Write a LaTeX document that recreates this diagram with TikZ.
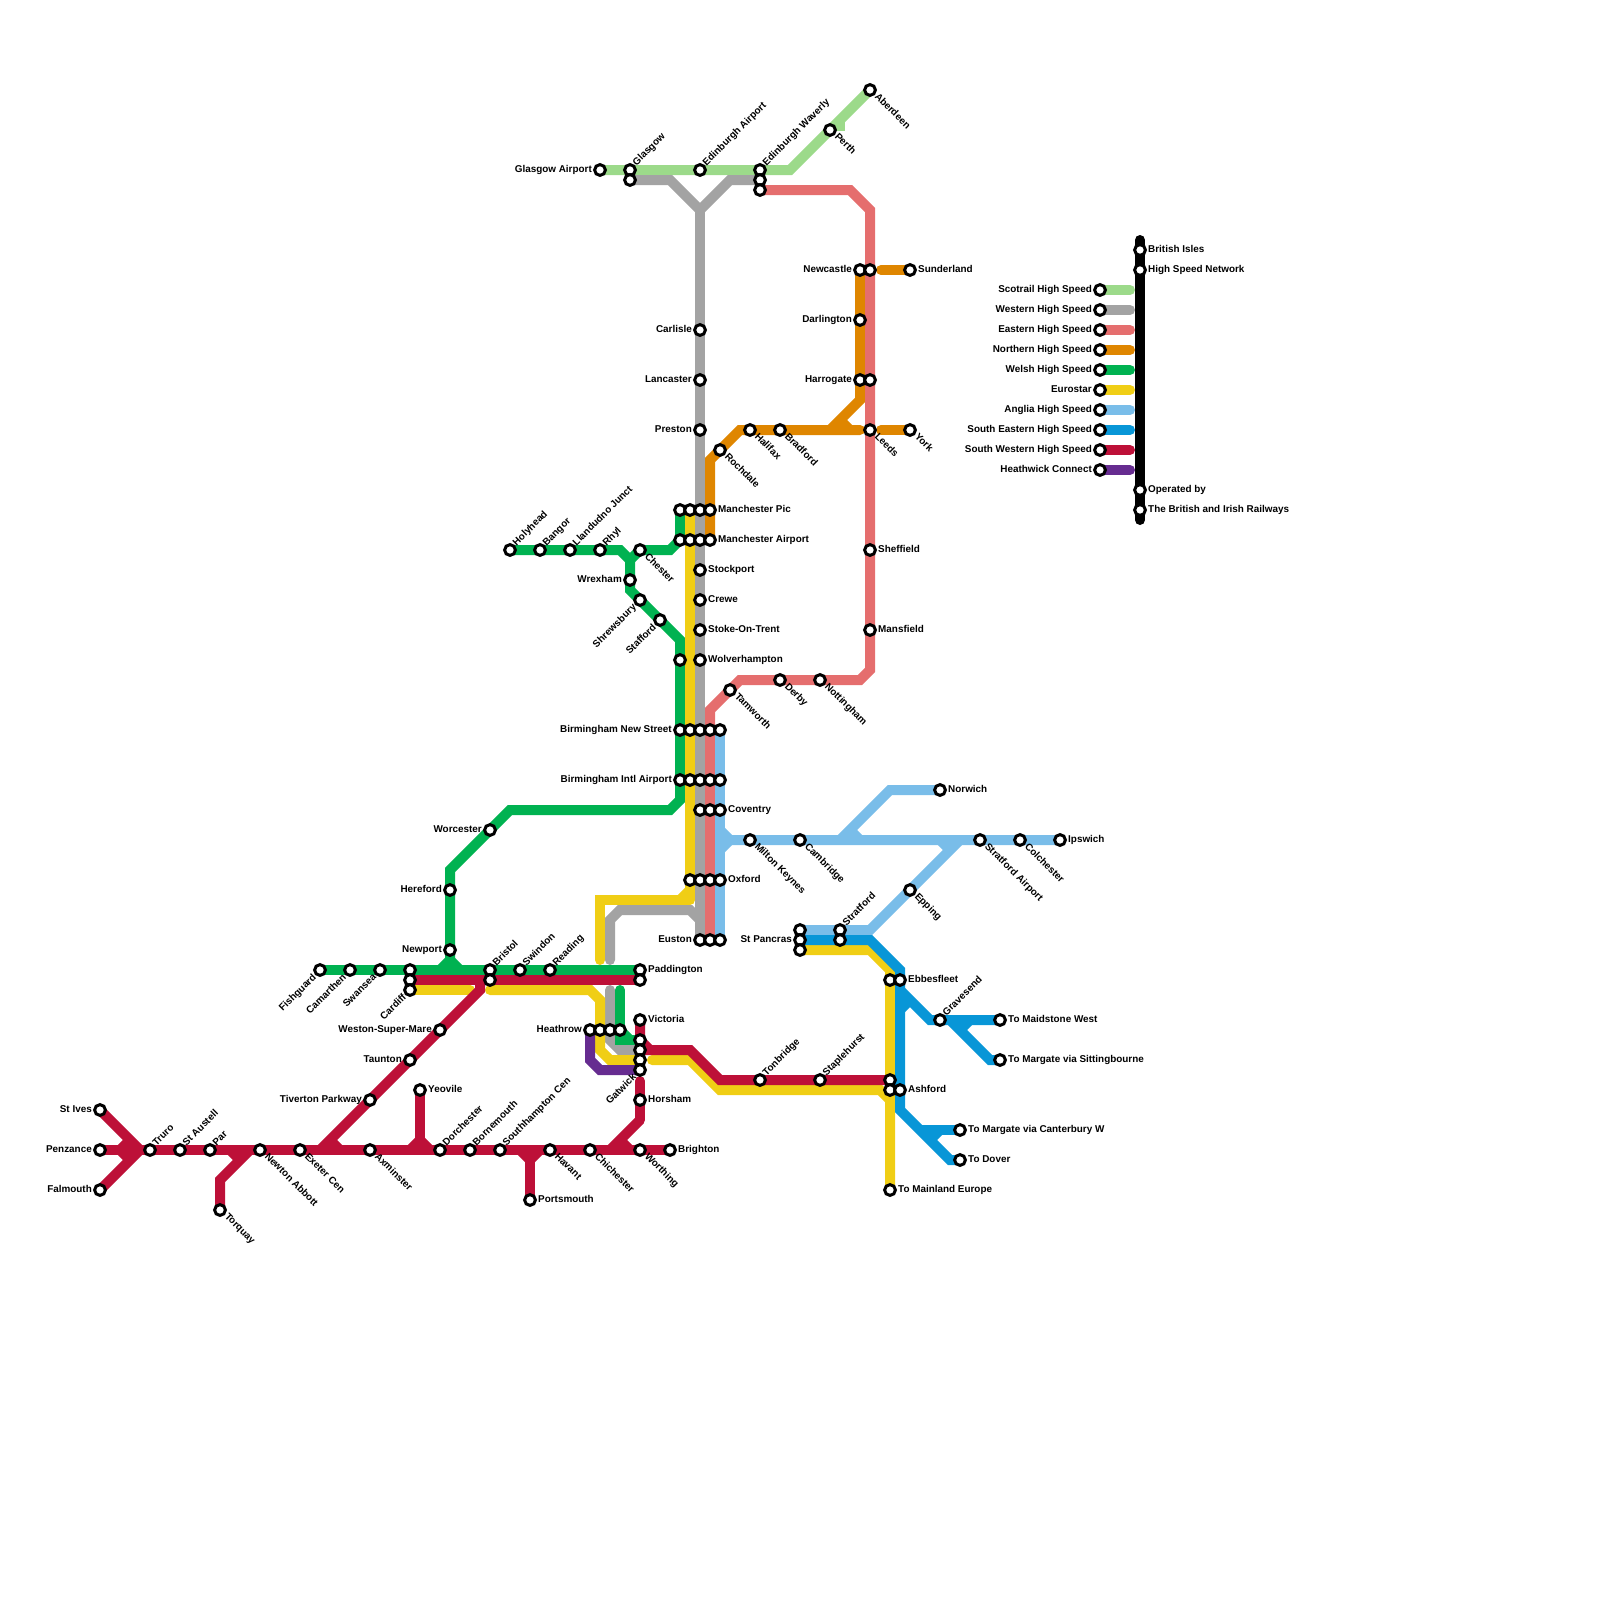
\documentclass[tikz,border=0pt]{standalone}
\usepackage{fontspec}
\setmainfont{Liberation Sans}
\pgfdeclarelayer{lines}
\pgfsetlayers{lines,main}
\definecolor{cScot}{HTML}{9CDA8A}
\definecolor{cWest}{HTML}{A3A3A3}
\definecolor{cEast}{HTML}{E56E6E}
\definecolor{cNorth}{HTML}{DF8600}
\definecolor{cWelsh}{HTML}{00B251}
\definecolor{cEuro}{HTML}{F0CE15}
\definecolor{cAnglia}{HTML}{79BDE9}
\definecolor{cSE}{HTML}{0896D7}
\definecolor{cSW}{HTML}{BD1038}
\definecolor{cHeath}{HTML}{662C90}
\newcommand{\stn}[2]{\node[stnode] (#1) at (#2) {};}
\newcommand{\wpt}[2]{\coordinate (#1) at (#2);}
\newcommand{\lab}[3]{\node[#1] (l#2) at (#2) {#3};}
\tikzset{
  stnode/.style={circle,draw=black,fill=white,line width=3pt,minimum size=10.8pt,inner sep=0pt},
  txt/.style={font=\fontsize{9.9}{12}\selectfont\bfseries,text=black,inner sep=0pt},
  lblR/.style={txt,xshift=8pt,yshift=0pt,anchor=mid west},
  lblL/.style={txt,xshift=-8pt,yshift=0pt,anchor=mid east},
  lblUR/.style={txt,xshift=4.5pt,yshift=5.5pt,rotate=45,anchor=mid west},
  lblDR/.style={txt,xshift=6pt,yshift=-5pt,rotate=-45,anchor=mid west},
  lblDL/.style={txt,xshift=-5pt,yshift=-6pt,rotate=45,anchor=mid east},
  railline/.style={line width=10pt,line cap=butt,line join=miter,miter limit=10},
  railend/.style={railline,line cap=round},
}
\begin{document}
\begin{tikzpicture}[x=1pt,y=-1pt]
\useasboundingbox (0,0) rectangle (1600,1600);
% stations
\stn{glasgowAirport}{600,170}\stn{glasgow}{630,170}\stn{glasgowB}{630,180}
\stn{edinAirport}{700,170}\stn{waverly}{760,170}\stn{waverlyB}{760,180}\stn{waverlyC}{760,190}
\stn{perth}{830,130}\stn{aberdeen}{870,90}
\stn{newcastle}{860,270}\stn{newcastleB}{870,270}\stn{sunderland}{910,270}
\stn{darlington}{860,320}\stn{harrogate}{860,380}\stn{harrogateB}{870,380}
\stn{leeds}{870,430}\stn{york}{910,430}\stn{halifax}{750,430}\stn{bradford}{780,430}\stn{rochdale}{720,450}
\stn{carlisle}{700,330}\stn{lancaster}{700,380}\stn{preston}{700,430}
\stn{picA}{680,510}\stn{picB}{690,510}\stn{picC}{700,510}\stn{picD}{710,510}
\stn{manA}{680,540}\stn{manB}{690,540}\stn{manC}{700,540}\stn{manD}{710,540}
\stn{stockport}{700,570}\stn{crewe}{700,600}\stn{stoke}{700,630}\stn{wolverhampton}{700,660}\stn{wolverhamptonB}{680,660}
\stn{sheffield}{870,550}\stn{mansfield}{870,630}
\stn{holyhead}{510,550}\stn{bangor}{540,550}\stn{llandudno}{570,550}\stn{rhyl}{600,550}\stn{chester}{640,550}
\stn{wrexham}{630,580}\stn{shrewsbury}{640,600}\stn{stafford}{660,620}
\stn{bnsA}{680,730}\stn{bnsB}{690,730}\stn{bnsC}{700,730}\stn{bnsD}{710,730}\stn{bnsE}{720,730}
\stn{biaA}{680,780}\stn{biaB}{690,780}\stn{biaC}{700,780}\stn{biaD}{710,780}\stn{biaE}{720,780}
\stn{covA}{700,810}\stn{covB}{710,810}\stn{covC}{720,810}
\stn{oxA}{690,880}\stn{oxB}{700,880}\stn{oxC}{710,880}\stn{oxD}{720,880}
\stn{eusA}{700,940}\stn{eusB}{710,940}\stn{eusC}{720,940}
\stn{tamworth}{730,690}\stn{derby}{780,680}\stn{nottingham}{820,680}
\stn{milton}{750,840}\stn{cambridge}{800,840}\stn{norwich}{940,790}\stn{stratAir}{980,840}\stn{colchester}{1020,840}\stn{ipswich}{1060,840}\stn{epping}{910,890}
\stn{panA}{800,930}\stn{panB}{800,940}\stn{panC}{800,950}\stn{stratford}{840,930}\stn{stratfordB}{840,940}
\stn{ebbA}{890,980}\stn{ebbB}{900,980}\stn{gravesend}{940,1020}\stn{maidstone}{1000,1020}\stn{sitting}{1000,1060}
\stn{ashA}{890,1080}\stn{ashB}{890,1090}\stn{ashC}{900,1090}\stn{canterbury}{960,1130}\stn{dover}{960,1160}\stn{europe}{890,1190}
\stn{tonbridge}{760,1080}\stn{staplehurst}{820,1080}
\stn{padA}{640,970}\stn{padB}{640,980}\stn{bristol}{490,970}\stn{bristolB}{490,980}\stn{swindon}{520,970}\stn{reading}{550,970}
\stn{heaA}{590,1030}\stn{heaB}{600,1030}\stn{heaC}{610,1030}\stn{heaD}{620,1030}
\stn{victoria}{640,1020}\stn{gatA}{640,1040}\stn{gatB}{640,1050}\stn{gatC}{640,1060}\stn{gatwick}{640,1070}
\stn{horsham}{640,1100}\stn{worthing}{640,1150}\stn{brighton}{670,1150}\stn{chichester}{590,1150}\stn{havant}{550,1150}\stn{portsmouth}{530,1200}
\stn{southampton}{500,1150}\stn{bournemouth}{470,1150}\stn{dorchester}{440,1150}\stn{yeovile}{420,1090}\stn{axminster}{370,1150}\stn{exeter}{300,1150}
\stn{newton}{260,1150}\stn{par}{210,1150}\stn{austell}{180,1150}\stn{truro}{150,1150}\stn{torquay}{220,1210}
\stn{ives}{100,1110}\stn{penzance}{100,1150}\stn{falmouth}{100,1190}
\stn{tiverton}{370,1100}\stn{taunton}{410,1060}\stn{weston}{440,1030}
\stn{cardA}{410,970}\stn{cardB}{410,980}\stn{cardiff}{410,990}\stn{swansea}{380,970}\stn{camarthen}{350,970}\stn{fishguard}{320,970}
\stn{newport}{450,950}\stn{hereford}{450,890}\stn{worcester}{490,830}
% legend stations
\stn{keyScot}{1100,290}\stn{keyWest}{1100,310}\stn{keyEast}{1100,330}\stn{keyNorth}{1100,350}\stn{keyWelsh}{1100,370}
\stn{keyEuro}{1100,390}\stn{keyAnglia}{1100,410}\stn{keySE}{1100,430}\stn{keySW}{1100,450}\stn{keyHeath}{1100,470}
\stn{isles}{1140,250}\stn{network}{1140,270}\stn{operated}{1140,490}\stn{railways}{1140,510}
% way points
\wpt{scA}{790,170}\wpt{scB}{840,120}\wpt{scC}{840,131}
\wpt{wsA}{670,180}\wpt{wsB}{700,210}\wpt{wsC}{730,180}\wpt{wsD}{610,960}\wpt{wsE}{610,920}\wpt{wsF}{620,910}\wpt{wsG}{690,910}\wpt{wsH}{700,920}
\wpt{wsI}{610,990}\wpt{wsJ}{610,1040}\wpt{wsK}{620,1050}
\wpt{eaA}{850,190}\wpt{eaB}{870,210}\wpt{eaC}{870,670}\wpt{eaD}{860,680}\wpt{eaE}{740,680}\wpt{eaF}{710,710}
\wpt{noA}{710,460}\wpt{noB}{740,430}\wpt{noC}{860,430}\wpt{noD}{860,400}\wpt{noE}{830,430}\wpt{noF}{881,270}\wpt{noG}{881,430}\wpt{noH}{840,420}\wpt{noI}{850,430}
\wpt{weA}{680,800}\wpt{weB}{670,810}\wpt{weC}{510,810}\wpt{weD}{450,870}\wpt{weE}{450,960}\wpt{weF}{440,970}\wpt{weG}{460,970}
\wpt{weH}{620,550}\wpt{weI}{630,560}\wpt{weJ}{630,590}\wpt{weK}{680,640}\wpt{weL}{670,550}
\wpt{weM}{620,990}\wpt{weN}{620,1040}\wpt{weO}{634,1040}\wpt{weP}{630,1040}
\wpt{euA}{690,900}\wpt{euB}{600,900}\wpt{euC}{600,960}\wpt{euD}{680,900}\wpt{euE}{690,890}
\wpt{euF}{470,990}\wpt{euG}{490,990}\wpt{euH}{590,990}\wpt{euI}{600,1000}\wpt{euJ}{600,1050}\wpt{euK}{610,1060}
\wpt{euL}{652,1060}\wpt{euM}{690,1060}\wpt{euN}{720,1090}\wpt{euO}{880,1090}\wpt{euP}{890,1100}\wpt{euQ}{870,950}\wpt{euR}{890,970}
\wpt{anA}{720,830}\wpt{anB}{730,840}\wpt{anC}{720,850}\wpt{anD}{840,840}\wpt{anE}{890,790}\wpt{anF}{850,830}\wpt{anG}{860,840}
\wpt{anH}{870,930}\wpt{anI}{960,840}\wpt{anJ}{940,840}\wpt{anK}{950,850}
\wpt{seA}{870,940}\wpt{seB}{900,970}\wpt{seC}{900,1110}\wpt{seD}{950,1160}\wpt{seE}{900,990}\wpt{seF}{930,1020}
\wpt{seG}{950,1020}\wpt{seH}{990,1060}\wpt{seI}{960,1030}\wpt{seJ}{970,1020}\wpt{seK}{900,1010}\wpt{seL}{910,1000}
\wpt{seM}{920,1130}\wpt{seN}{930,1140}\wpt{seO}{940,1130}
\wpt{swA}{140,1150}\wpt{swB}{120,1150}\wpt{swC}{130,1140}\wpt{swD}{130,1160}
\wpt{swE}{220,1180}\wpt{swF}{250,1150}\wpt{swG}{230,1150}\wpt{swH}{240,1160}
\wpt{swI}{320,1150}\wpt{swJ}{480,990}\wpt{swJJ}{480,980}\wpt{swK}{330,1140}\wpt{swL}{340,1150}
\wpt{swM}{420,1150}\wpt{swN}{410,1150}\wpt{swO}{420,1140}\wpt{swP}{430,1150}
\wpt{swQ}{530,1150}\wpt{swR}{520,1150}\wpt{swS}{530,1160}\wpt{swT}{540,1150}
\wpt{swU}{640,1120}\wpt{swV}{610,1150}\wpt{swW}{620,1140}\wpt{swX}{630,1150}\wpt{swY}{640,1081}
\wpt{swZ}{690,1050}\wpt{swAA}{720,1080}\wpt{swAB}{650,1050}
\wpt{heA}{590,1060}\wpt{heB}{600,1070}
% legend way points
\wpt{endScot}{1130,290}\wpt{endWest}{1130,310}\wpt{endEast}{1130,330}\wpt{endNorth}{1130,350}\wpt{endWelsh}{1130,370}
\wpt{endEuro}{1130,390}\wpt{endAnglia}{1130,410}\wpt{endSE}{1130,430}\wpt{endSW}{1130,450}\wpt{endHeath}{1130,470}
\wpt{blackTop}{1140,240}\wpt{blackEnd}{1140,520}
\begin{pgfonlayer}{lines}
% Scotrail
\draw[railline,cScot] (glasgowAirport.center) -- (scA) -- (aberdeen.center);
\draw[railline,cScot] (scB) -- (scC);
% Western
\draw[railline,cWest] (glasgowB.center) -- (wsA) -- (wsB) -- (wsC) -- (waverlyB.center);
\draw[railline,cWest] (wsB) -- (eusA.center);
\draw[railend,cWest] (wsD) -- (wsE) -- (wsF) -- (wsG) -- (wsH);
\draw[railend,cWest] (wsI) -- (wsJ) -- (wsK) -- (gatB.center);
% Northern and Eastern
\draw[railline,cNorth] (newcastle.center) -- (noD) -- (noE);
\draw[railend,cNorth] (manD.center) -- (noA) -- (noB) -- (noC);
\draw[railline,cNorth] (noH) -- (noI);
\draw[railend,cNorth] (noF) -- (sunderland.center);
\draw[railend,cNorth] (noG) -- (york.center);
\draw[railline,cEast] (waverlyC.center) -- (eaA) -- (eaB) -- (eaC) -- (eaD) -- (eaE) -- (eaF) -- (eusB.center);
% Welsh
\draw[railline,cWelsh] (picA.center) -- (manA.center);
\draw[railline,cWelsh] (weF) -- (weE) -- (weG);
\draw[railline,cWelsh] (fishguard.center) -- (padA.center);
\draw[railline,cWelsh] (holyhead.center) -- (weH) -- (weI) -- (weJ) -- (weK) -- (weA) -- (weB) -- (weC) -- (weD) -- (weE);
\draw[railline,cWelsh] (weI) -- (chester.center) -- (weL) -- (manA.center);
\draw[railend,cWelsh] (weM) -- (weN) -- (weO);
\draw[railline,cWelsh] (heaD.center) -- (weP);
% Eurostar
\draw[railline,cEuro] (picB.center) -- (euA);
\draw[railend,cEuro] (euA) -- (euB) -- (euC);
\draw[railline,cEuro] (euD) -- (euE);
\draw[railend,cEuro] (cardiff.center) -- (euF);
\draw[railend,cEuro] (euG) -- (euH) -- (euI) -- (euJ) -- (euK) -- (gatC.center);
\draw[railend,cEuro] (euL) -- (euM) -- (euN) -- (euO) -- (euP);
\draw[railline,cEuro] (panC.center) -- (euQ) -- (euR) -- (europe.center);
% Anglia
\draw[railline,cAnglia] (bnsE.center) -- (eusC.center);
\draw[railline,cAnglia] (anA) -- (anB) -- (ipswich.center);
\draw[railline,cAnglia] (anC) -- (anB);
\draw[railline,cAnglia] (anD) -- (anE) -- (norwich.center);
\draw[railline,cAnglia] (anF) -- (anG);
\draw[railline,cAnglia] (panA.center) -- (anH) -- (anI);
\draw[railline,cAnglia] (anJ) -- (anK);
% South Eastern
\draw[railline,cSE] (panB.center) -- (seA) -- (seB) -- (seC) -- (seD) -- (dover.center);
\draw[railline,cSE] (seE) -- (seF) -- (maidstone.center);
\draw[railline,cSE] (seG) -- (seH) -- (sitting.center);
\draw[railline,cSE] (seI) -- (seJ);
\draw[railline,cSE] (seK) -- (seL);
\draw[railline,cSE] (seM) -- (canterbury.center);
\draw[railline,cSE] (seN) -- (seO);
% South Western
\draw[railline,cSW] (penzance.center) -- (brighton.center);
\draw[railline,cSW] (ives.center) -- (swA) -- (falmouth.center);
\draw[railline,cSW] (swB) -- (swC);
\draw[railline,cSW] (swB) -- (swD);
\draw[railline,cSW] (torquay.center) -- (swE) -- (swF);
\draw[railline,cSW] (swG) -- (swH);
\draw[railline,cSW] (swI) -- (swJ) -- (swJJ);
\draw[railline,cSW] (swK) -- (swL);
\draw[railline,cSW] (yeovile.center) -- (swM);
\draw[railline,cSW] (swN) -- (swO) -- (swP);
\draw[railline,cSW] (portsmouth.center) -- (swQ);
\draw[railline,cSW] (swR) -- (swS) -- (swT);
\draw[railend,cSW] (swY) -- (swU);
\draw[railline,cSW] (swU) -- (swV);
\draw[railline,cSW] (swW) -- (swX);
\draw[railline,cSW] (cardB.center) -- (padB.center);
\draw[railline,cSW] (victoria.center) -- (gatB.center) -- (swZ) -- (swAA) -- (ashA.center);
\draw[railline,cSW] (gatA.center) -- (swAB);
% Heathwick
\draw[railline,cHeath] (heaA.center) -- (heA) -- (heB) -- (gatwick.center);
% legend
\draw[railend,cScot] (keyScot.center) -- (endScot);
\draw[railend,cWest] (keyWest.center) -- (endWest);
\draw[railend,cEast] (keyEast.center) -- (endEast);
\draw[railend,cNorth] (keyNorth.center) -- (endNorth);
\draw[railend,cWelsh] (keyWelsh.center) -- (endWelsh);
\draw[railend,cEuro] (keyEuro.center) -- (endEuro);
\draw[railend,cAnglia] (keyAnglia.center) -- (endAnglia);
\draw[railend,cSE] (keySE.center) -- (endSE);
\draw[railend,cSW] (keySW.center) -- (endSW);
\draw[railend,cHeath] (keyHeath.center) -- (endHeath);
\draw[railend,black] (blackTop) -- (blackEnd);
\end{pgfonlayer}
% labels
\lab{lblL}{glasgowAirport}{Glasgow Airport}
\lab{lblUR}{glasgow}{Glasgow}
\lab{lblUR}{edinAirport}{Edinburgh Airport}
\lab{lblUR}{waverly}{Edinburgh Waverly}
\lab{lblDR}{perth}{Perth}
\lab{lblDR}{aberdeen}{Aberdeen}
\lab{lblL}{newcastle}{Newcastle}
\lab{lblR}{sunderland}{Sunderland}
\lab{lblL}{darlington}{Darlington}
\lab{lblL}{harrogate}{Harrogate}
\lab{lblDR}{leeds}{Leeds}
\lab{lblDR}{york}{York}
\lab{lblDR}{halifax}{Halifax}
\lab{lblDR}{bradford}{Bradford}
\lab{lblDR}{rochdale}{Rochdale}
\lab{lblL}{carlisle}{Carlisle}
\lab{lblL}{lancaster}{Lancaster}
\lab{lblL}{preston}{Preston}
\lab{lblR}{picD}{Manchester Pic}
\lab{lblR}{manD}{Manchester Airport}
\lab{lblR}{stockport}{Stockport}
\lab{lblR}{crewe}{Crewe}
\lab{lblR}{stoke}{Stoke-On-Trent}
\lab{lblR}{wolverhampton}{Wolverhampton}
\lab{lblR}{sheffield}{Sheffield}
\lab{lblR}{mansfield}{Mansfield}
\lab{lblUR}{holyhead}{Holyhead}
\lab{lblUR}{bangor}{Bangor}
\lab{lblUR}{llandudno}{Llandudno Junct}
\lab{lblUR}{rhyl}{Rhyl}
\lab{lblDR}{chester}{Chester}
\lab{lblL}{wrexham}{Wrexham}
\lab{lblDL}{shrewsbury}{Shrewsbury}
\lab{lblDL}{stafford}{Stafford}
\lab{lblL}{bnsA}{Birmingham New Street}
\lab{lblL}{biaA}{Birmingham Intl Airport}
\lab{lblR}{covC}{Coventry}
\lab{lblR}{oxD}{Oxford}
\lab{lblL}{eusA}{Euston}
\lab{lblDR}{tamworth}{Tamworth}
\lab{lblDR}{derby}{Derby}
\lab{lblDR}{nottingham}{Nottingham}
\lab{lblDR}{milton}{Milton Keynes}
\lab{lblDR}{cambridge}{Cambridge}
\lab{lblR}{norwich}{Norwich}
\lab{lblDR}{stratAir}{Stratford Airport}
\lab{lblDR}{colchester}{Colchester}
\lab{lblR}{ipswich}{Ipswich}
\lab{lblDR}{epping}{Epping}
\lab{lblL}{panB}{St Pancras}
\lab{lblUR}{stratford}{Stratford}
\lab{lblR}{ebbB}{Ebbesfleet}
\lab{lblUR}{gravesend}{Gravesend}
\lab{lblR}{maidstone}{To Maidstone West}
\lab{lblR}{sitting}{To Margate via Sittingbourne}
\lab{lblR}{ashC}{Ashford}
\lab{lblR}{canterbury}{To Margate via Canterbury W}
\lab{lblR}{dover}{To Dover}
\lab{lblR}{europe}{To Mainland Europe}
\lab{lblUR}{tonbridge}{Tonbridge}
\lab{lblUR}{staplehurst}{Staplehurst}
\lab{lblR}{padA}{Paddington}
\lab{lblUR}{bristol}{Bristol}
\lab{lblUR}{swindon}{Swindon}
\lab{lblUR}{reading}{Reading}
\lab{lblL}{heaA}{Heathrow}
\lab{lblR}{victoria}{Victoria}
\lab{lblDL}{gatwick}{Gatwick}
\lab{lblR}{horsham}{Horsham}
\lab{lblDR}{worthing}{Worthing}
\lab{lblR}{brighton}{Brighton}
\lab{lblDR}{chichester}{Chichester}
\lab{lblDR}{havant}{Havant}
\lab{lblR}{portsmouth}{Portsmouth}
\lab{lblUR}{southampton}{Southhampton Cen}
\lab{lblUR}{bournemouth}{Bornemouth}
\lab{lblUR}{dorchester}{Dorchester}
\lab{lblR}{yeovile}{Yeovile}
\lab{lblDR}{axminster}{Axminster}
\lab{lblDR}{exeter}{Exeter Cen}
\lab{lblDR}{newton}{Newton Abbott}
\lab{lblUR}{par}{Par}
\lab{lblUR}{austell}{St Austell}
\lab{lblUR}{truro}{Truro}
\lab{lblDR}{torquay}{Torquay}
\lab{lblL}{ives}{St Ives}
\lab{lblL}{penzance}{Penzance}
\lab{lblL}{falmouth}{Falmouth}
\lab{lblL}{tiverton}{Tiverton Parkway}
\lab{lblL}{taunton}{Taunton}
\lab{lblL}{weston}{Weston-Super-Mare}
\lab{lblDL}{cardiff}{Cardiff}
\lab{lblDL}{swansea}{Swansea}
\lab{lblDL}{camarthen}{Camarthen}
\lab{lblDL}{fishguard}{Fishguard}
\lab{lblL}{newport}{Newport}
\lab{lblL}{hereford}{Hereford}
\lab{lblL}{worcester}{Worcester}
\lab{lblL}{keyScot}{Scotrail High Speed}
\lab{lblL}{keyWest}{Western High Speed}
\lab{lblL}{keyEast}{Eastern High Speed}
\lab{lblL}{keyNorth}{Northern High Speed}
\lab{lblL}{keyWelsh}{Welsh High Speed}
\lab{lblL}{keyEuro}{Eurostar}
\lab{lblL}{keyAnglia}{Anglia High Speed}
\lab{lblL}{keySE}{South Eastern High Speed}
\lab{lblL}{keySW}{South Western High Speed}
\lab{lblL}{keyHeath}{Heathwick Connect}
\lab{lblR}{isles}{British Isles}
\lab{lblR}{network}{High Speed Network}
\lab{lblR}{operated}{Operated by}
\lab{lblR}{railways}{The British and Irish Railways}
\end{tikzpicture}
\end{document}
